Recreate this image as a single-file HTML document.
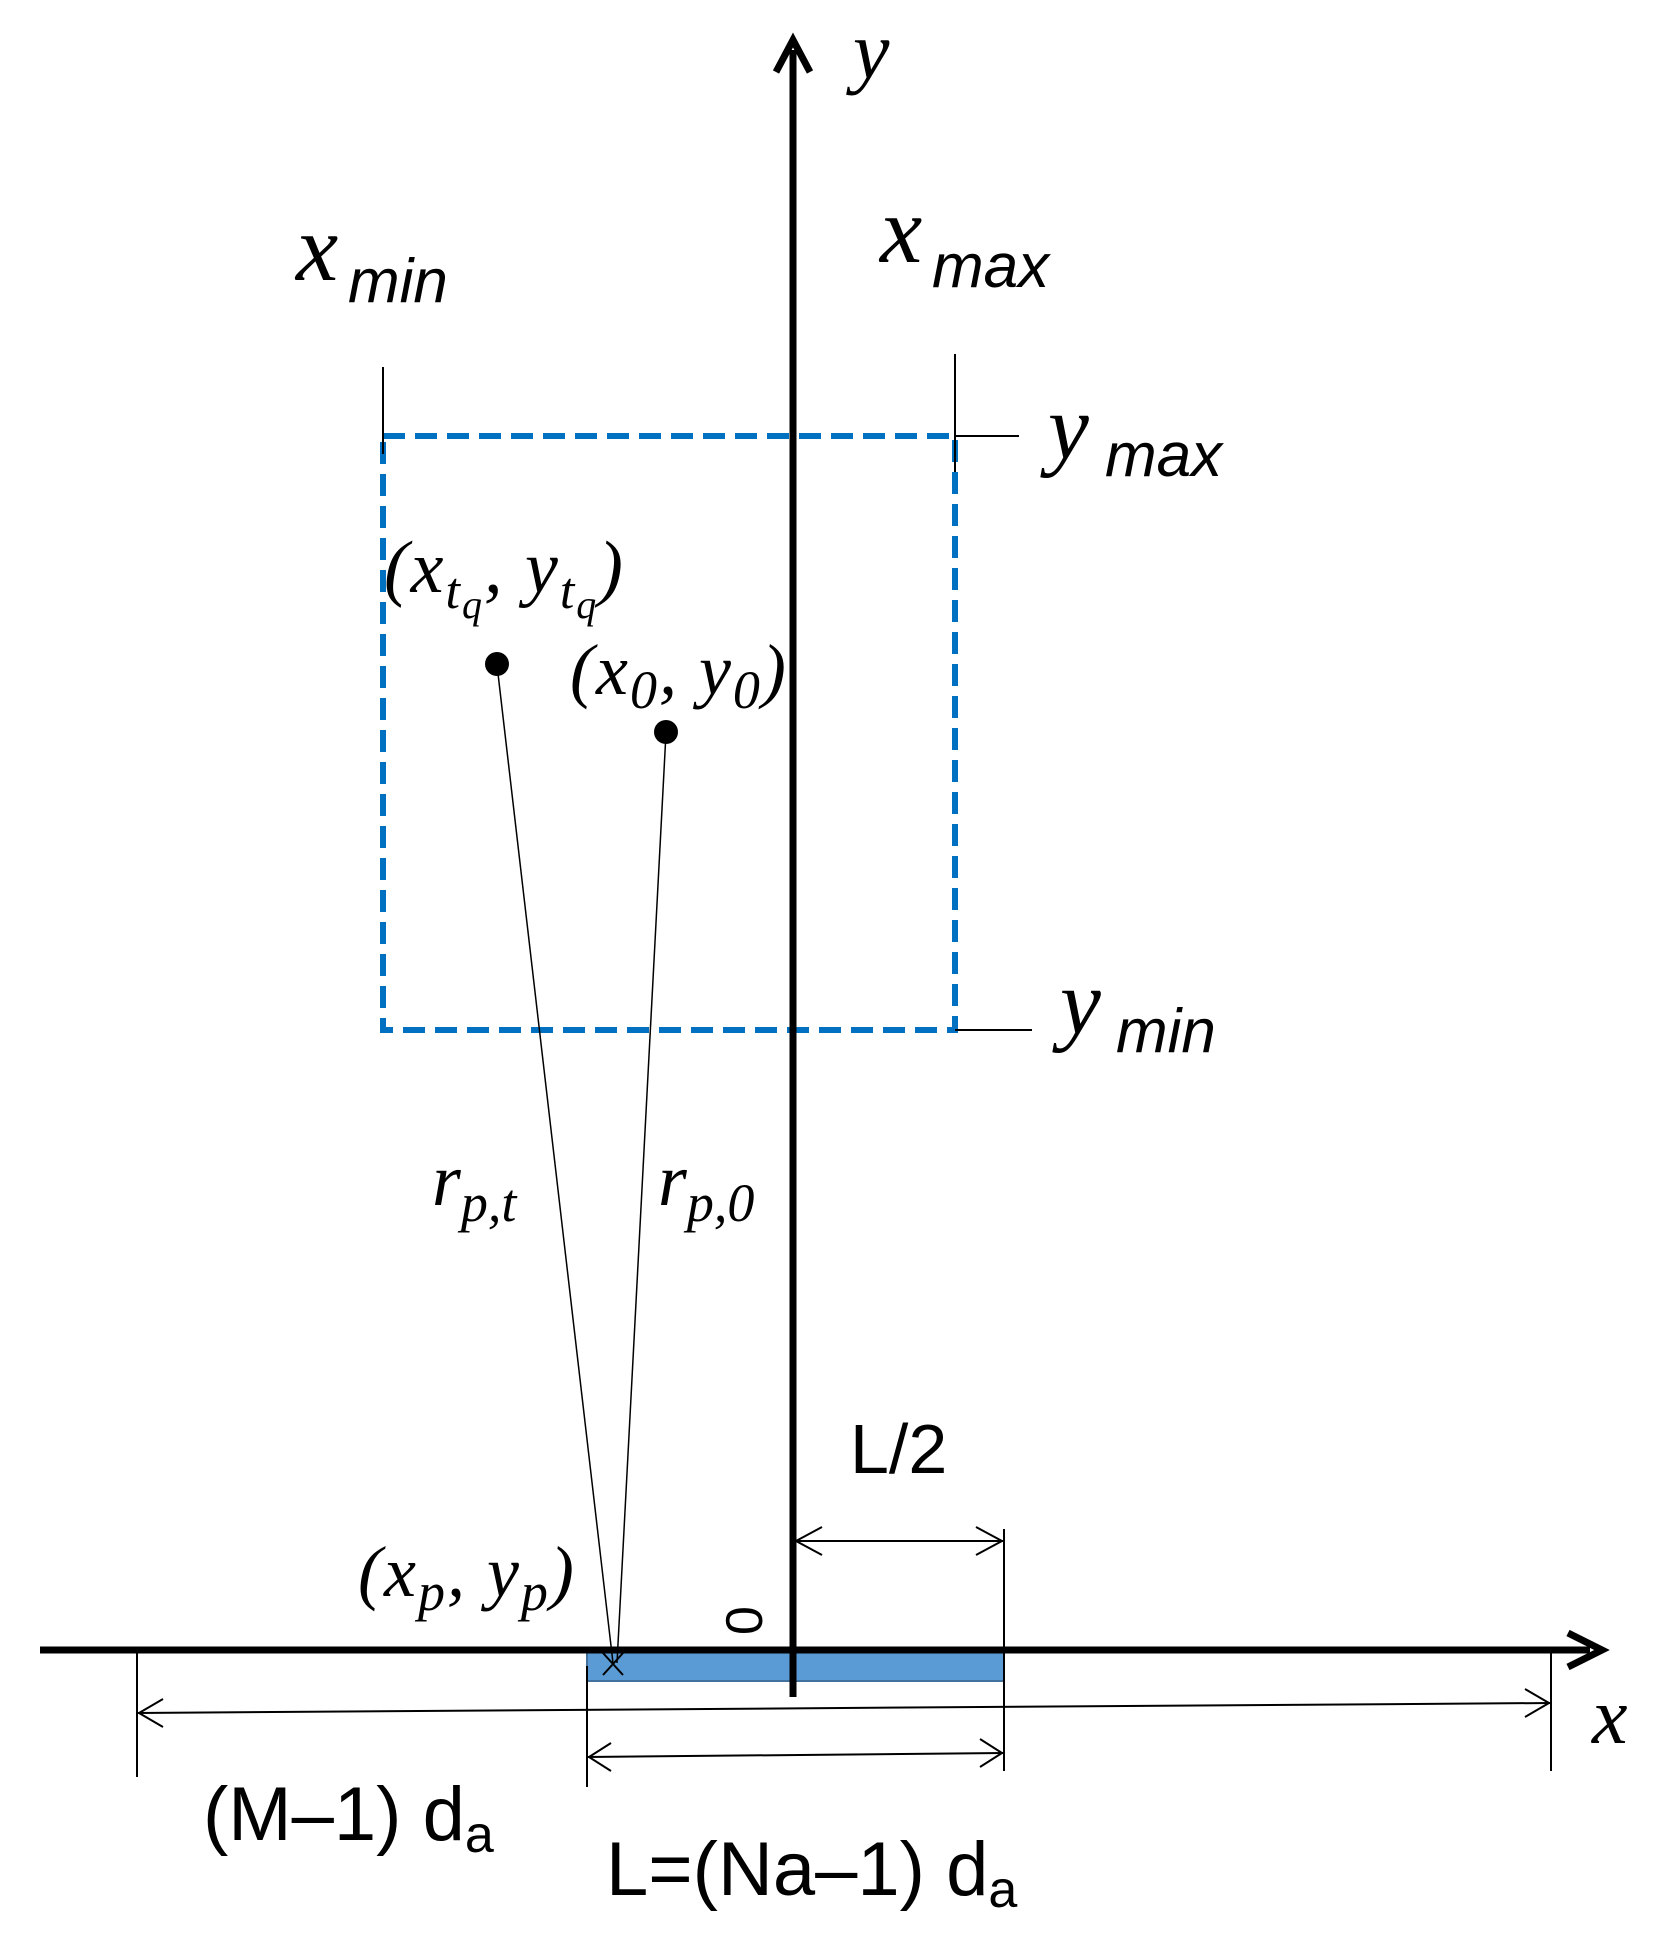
<!DOCTYPE html>
<html><head><meta charset="utf-8"><style>html,body{margin:0;padding:0;background:#fff}svg{display:block}</style></head>
<body>
<svg width="1676" height="1945" viewBox="0 0 1676 1945" xmlns="http://www.w3.org/2000/svg">
<rect width="1676" height="1945" fill="#fff"/>
<rect x="587" y="1651" width="417" height="30" fill="#5b9bd5" stroke="#41719c" stroke-width="2"/>
<rect x="383" y="436" width="572" height="594" fill="none" stroke="#0070c0" stroke-width="6" stroke-dasharray="22,10"/>
<line x1="793" y1="50" x2="793" y2="1697" stroke="#000" stroke-width="7"/>
<polyline points="776,72 793,40 810,72" fill="none" stroke="#000" stroke-width="7"/>
<line x1="40" y1="1650" x2="1590" y2="1650" stroke="#000" stroke-width="7"/>
<polyline points="1568,1633 1602,1650 1568,1667" fill="none" stroke="#000" stroke-width="7"/>
<g stroke="#000" stroke-width="2" fill="none">
<line x1="383" y1="367" x2="383" y2="454"/>
<line x1="955" y1="354" x2="955" y2="472"/>
<line x1="955" y1="436" x2="1019" y2="436"/>
<line x1="955" y1="1030" x2="1032" y2="1030"/>
<line x1="1004" y1="1529" x2="1004" y2="1771"/>
<line x1="587" y1="1666" x2="587" y2="1787"/>
<line x1="137" y1="1653" x2="137" y2="1777"/>
<line x1="1551" y1="1647" x2="1551" y2="1771"/>
<line x1="793" y1="1541" x2="1004" y2="1541"/>
<polyline points="822,1527 796,1541 822,1555"/>
<polyline points="976,1527 1002,1541 976,1555"/>
<line x1="137" y1="1713" x2="1551" y2="1703"/>
<polyline points="163,1699 139,1713 163,1727"/>
<polyline points="1525,1689 1549,1703 1525,1717"/>
<line x1="587" y1="1757" x2="1004" y2="1753"/>
<polyline points="611,1743 589,1757 611,1771"/>
<polyline points="980,1739 1002,1753 980,1767"/>
<line x1="497" y1="665" x2="613" y2="1663" stroke-width="1.5"/>
<line x1="666" y1="733" x2="617" y2="1663" stroke-width="1.5"/>
<line x1="603" y1="1653" x2="623" y2="1675" stroke-width="2"/>
<line x1="623" y1="1653" x2="603" y2="1675" stroke-width="2"/>
</g>
<circle cx="497" cy="664" r="12" fill="#000"/>
<circle cx="666" cy="732" r="12" fill="#000"/>
<g font-family="Liberation Serif, serif" font-style="italic" fill="#000">
<text x="853" y="78" font-size="82">y</text>
<text x="296" y="280" font-size="95">x</text>
<text x="880" y="262" font-size="95">x</text>
<text x="1048" y="458" font-size="92">y</text>
<text x="1060" y="1033" font-size="92">y</text>
<text x="1592" y="1743" font-size="80">x</text>
<text x="384" y="592" font-size="74" letter-spacing="2">(x<tspan font-size="52" dy="16">t</tspan><tspan font-size="40" dy="10">q</tspan><tspan font-size="74" dy="-26">, y</tspan><tspan font-size="52" dy="16">t</tspan><tspan font-size="40" dy="10">q</tspan><tspan font-size="74" dy="-26">)</tspan></text>
<text x="570" y="694" font-size="72" letter-spacing="2">(x<tspan font-size="54" dy="14">0</tspan><tspan font-size="72" dy="-14">, y</tspan><tspan font-size="54" dy="14">0</tspan><tspan font-size="72" dy="-14">)</tspan></text>
<text x="358" y="1596" font-size="72" letter-spacing="2">(x<tspan font-size="54" dy="14">p</tspan><tspan font-size="72" dy="-14">, y</tspan><tspan font-size="54" dy="14">p</tspan><tspan font-size="72" dy="-14">)</tspan></text>
<text x="432" y="1205" font-size="74">r<tspan font-size="54" dy="16">p,t</tspan></text>
<text x="658" y="1205" font-size="74">r<tspan font-size="54" dy="16">p,0</tspan></text>
</g>
<g font-family="Liberation Sans, sans-serif" font-style="italic" fill="#000" font-size="62">
<text x="348" y="302">min</text>
<text x="932" y="287">max</text>
<text x="1105" y="476">max</text>
<text x="1116" y="1052">min</text>
</g>
<g font-family="Liberation Sans, sans-serif" fill="#000">
<text x="850" y="1473" font-size="70">L/2</text>
<text x="0" y="0" font-size="52" transform="translate(762,1635) rotate(-90)">0</text>
<text x="203" y="1840" font-size="76">(M–1) d<tspan font-size="52" dy="12">a</tspan></text>
<text x="606" y="1895" font-size="76">L=(Na–1) d<tspan font-size="52" dy="12">a</tspan></text>
</g>
</svg>
</body></html>
